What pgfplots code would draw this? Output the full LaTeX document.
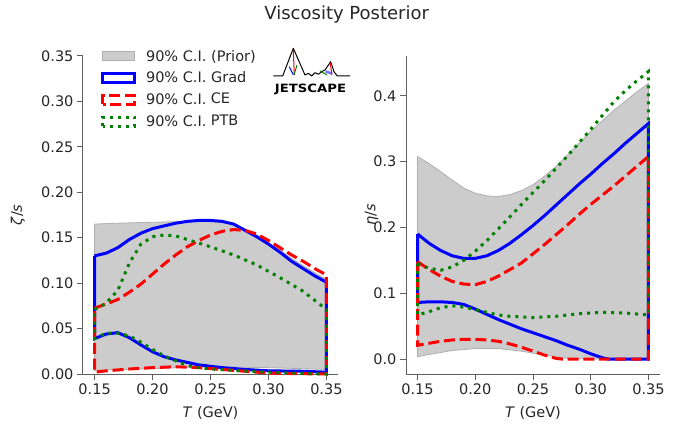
\documentclass[border=0pt]{standalone}
\usepackage{fontspec}
\setmainfont{DejaVu Sans}
\usepackage{pgfplots}
\pgfplotsset{compat=1.18}
\definecolor{txt}{RGB}{38,38,38}
\definecolor{spine}{RGB}{95,95,95}
\definecolor{priorfill}{RGB}{204,204,204}
\definecolor{prioredge}{RGB}{175,175,175}
\definecolor{mgreen}{RGB}{0,128,0}
\pgfplotsset{
 vstyle/.style={
  scale only axis, width=255pt, height=318pt, clip=false,
  axis x line*=bottom, axis y line*=left,
  axis line style={-, spine, line width=1pt},
  tick style={spine, line width=1pt},
  tick align=outside, major tick length=6pt,
  xmin=0.14, xmax=0.36, scaled ticks=false,
  xtick={0.15,0.2,0.25,0.3,0.35},
  xticklabel style={/pgf/number format/.cd, fixed, fixed zerofill, precision=2},
  /pgf/number format/assume math mode=true,
  tick label style={font=\fontsize{14.5}{17}\selectfont, text=txt},
  label style={font=\fontsize{14.5}{17}\selectfont, text=txt},
  xlabel={\textit{T} (GeV)},
  xlabel style={at={(axis description cs:0.5,-0.123)}, anchor=center},
  legend image code/.code={\draw[##1] (0pt,-4.5pt) rectangle (32pt,4.5pt); \path[draw=none, fill=none] (0pt,0pt) -- (42pt,0pt);},
 },
 grad/.style={blue, line width=3pt},
 ce/.style={red, line width=3pt, dash pattern=on 11pt off 4.8pt},
 ptb/.style={mgreen, line width=3pt, dash pattern=on 3pt off 5pt},
 prior/.style={fill=priorfill, draw=prioredge, line width=0.8pt},
}
\begin{document}
\begin{tikzpicture}
\path[use as bounding box] (0pt,0pt) rectangle (689pt,426pt);
\node[font=\fontsize{18}{21}\selectfont, text=txt] at (346.7pt,411pt) {Viscosity Posterior};

% ---------------- left panel: zeta/s
\begin{axis}[vstyle, at={(83pt,52pt)}, anchor=south west,
  ymin=0, ymax=0.35,
  ytick={0,0.05,0.1,0.15,0.2,0.25,0.3,0.35},
  yticklabel style={/pgf/number format/.cd, fixed, fixed zerofill, precision=2},
  ylabel={\textit{ζ}/\textit{s}},
  ylabel style={at={(axis description cs:-0.255,0.5)}, anchor=center},
  legend style={draw=none, fill=none, at={(axis description cs:0.07,1.024)}, anchor=north west,
    font=\fontsize{14.5}{17}\selectfont, text=txt, row sep=5.9pt, inner sep=0pt,
    nodes={inner sep=1.5pt}},
  legend cell align=left]
\addplot[prior] coordinates {
(0.15,0.165)(0.17,0.166)(0.20,0.167)(0.23,0.168)(0.25,0.168)(0.27,0.165)(0.29,0.153)(0.31,0.136)(0.33,0.119)(0.35,0.104)
(0.35,0.005)(0.30,0.007)(0.25,0.008)(0.20,0.006)(0.15,0.004)(0.15,0.165)};
\addlegendentry{90\% C.I. (Prior)}
\addplot[grad] coordinates {
(0.15,0.130)(0.16,0.133)(0.17,0.139)(0.18,0.148)(0.19,0.155)(0.20,0.160)(0.21,0.163)(0.22,0.166)(0.23,0.168)(0.24,0.169)(0.25,0.169)(0.26,0.168)(0.27,0.165)(0.28,0.158)(0.29,0.151)(0.30,0.143)(0.31,0.134)(0.32,0.124)(0.33,0.116)(0.34,0.108)(0.35,0.101)
(0.35,0.002)(0.33,0.003)(0.30,0.0035)(0.28,0.005)(0.26,0.007)(0.24,0.010)(0.22,0.0155)(0.21,0.019)(0.20,0.0245)(0.19,0.032)(0.18,0.040)(0.17,0.0455)(0.16,0.044)(0.15,0.039)(0.15,0.130)};
\addlegendentry{90\% C.I. Grad}
\addplot[ce] coordinates {
(0.15,0.0725)(0.16,0.077)(0.17,0.082)(0.18,0.090)(0.19,0.099)(0.20,0.110)(0.21,0.121)(0.22,0.131)(0.23,0.140)(0.24,0.147)(0.25,0.153)(0.26,0.157)(0.27,0.159)(0.28,0.158)(0.29,0.154)(0.30,0.147)(0.31,0.139)(0.32,0.131)(0.33,0.124)(0.34,0.116)(0.35,0.109)
(0.35,0.0)(0.32,0.0005)(0.30,0.001)(0.28,0.003)(0.26,0.005)(0.24,0.007)(0.22,0.008)(0.20,0.007)(0.18,0.0055)(0.16,0.0035)(0.15,0.002)(0.15,0.0725)};
\addlegendentry{90\% C.I.\hspace{0.3em}\raisebox{1pt}{CE}}
\addplot[ptb] coordinates {
(0.15,0.071)(0.16,0.078)(0.17,0.092)(0.18,0.122)(0.19,0.143)(0.20,0.151)(0.21,0.153)(0.22,0.152)(0.23,0.148)(0.25,0.140)(0.27,0.131)(0.29,0.120)(0.31,0.106)(0.33,0.091)(0.35,0.071)
(0.35,0.0)(0.32,0.001)(0.30,0.002)(0.27,0.004)(0.25,0.0055)(0.24,0.007)(0.23,0.0095)(0.22,0.0145)(0.21,0.020)(0.20,0.027)(0.19,0.035)(0.18,0.042)(0.17,0.045)(0.16,0.045)(0.15,0.039)(0.15,0.071)};
\addlegendentry{90\% C.I.\hspace{0.3em}\raisebox{1pt}{PTB}}
\end{axis}

% ---------------- right panel: eta/s
\begin{axis}[vstyle, at={(406pt,52pt)}, anchor=south west, width=254pt,
  ymin=-0.0227, ymax=0.4606,
  ytick={0,0.1,0.2,0.3,0.4},
  yticklabel style={/pgf/number format/.cd, fixed, fixed zerofill, precision=1},
  ylabel={\textit{η}/\textit{s}},
  ylabel style={at={(axis description cs:-0.135,0.5)}, anchor=center}]
\addplot[prior] coordinates {
(0.15,0.308)(0.16,0.297)(0.17,0.285)(0.18,0.272)(0.19,0.260)(0.20,0.252)(0.21,0.248)(0.22,0.247)(0.23,0.250)(0.24,0.256)(0.25,0.265)(0.26,0.278)(0.27,0.293)(0.28,0.310)(0.29,0.328)(0.30,0.346)(0.31,0.362)(0.32,0.378)(0.33,0.392)(0.34,0.406)(0.35,0.419)
(0.35,0.0)(0.30,0.0)(0.28,0.001)(0.26,0.006)(0.25,0.009)(0.24,0.012)(0.22,0.016)(0.20,0.016)(0.18,0.013)(0.16,0.007)(0.15,0.0035)(0.15,0.308)};
\addplot[grad] coordinates {
(0.15,0.190)(0.16,0.176)(0.17,0.165)(0.18,0.157)(0.19,0.153)(0.20,0.153)(0.21,0.157)(0.22,0.165)(0.23,0.176)(0.24,0.189)(0.25,0.203)(0.26,0.218)(0.27,0.234)(0.28,0.250)(0.29,0.266)(0.30,0.281)(0.31,0.297)(0.32,0.312)(0.33,0.328)(0.34,0.343)(0.35,0.358)
(0.35,0.0)(0.315,0.0)(0.31,0.002)(0.30,0.008)(0.29,0.015)(0.28,0.021)(0.27,0.028)(0.26,0.034)(0.25,0.040)(0.24,0.046)(0.23,0.053)(0.22,0.060)(0.21,0.068)(0.20,0.076)(0.19,0.083)(0.18,0.086)(0.17,0.087)(0.16,0.087)(0.15,0.086)(0.15,0.190)};
\addplot[ce] coordinates {
(0.15,0.148)(0.16,0.136)(0.17,0.126)(0.18,0.118)(0.19,0.114)(0.20,0.113)(0.21,0.118)(0.22,0.126)(0.23,0.136)(0.24,0.146)(0.25,0.160)(0.26,0.174)(0.27,0.189)(0.28,0.204)(0.29,0.220)(0.30,0.235)(0.31,0.249)(0.32,0.263)(0.33,0.278)(0.34,0.293)(0.35,0.308)
(0.35,0.0)(0.275,0.0)(0.27,0.001)(0.26,0.006)(0.25,0.012)(0.24,0.018)(0.23,0.023)(0.22,0.027)(0.21,0.029)(0.20,0.030)(0.19,0.030)(0.18,0.029)(0.17,0.027)(0.16,0.024)(0.15,0.021)(0.15,0.148)};
\addplot[ptb] coordinates {
(0.15,0.145)(0.16,0.138)(0.17,0.135)(0.18,0.140)(0.19,0.150)(0.20,0.164)(0.21,0.180)(0.22,0.198)(0.23,0.216)(0.24,0.235)(0.25,0.253)(0.26,0.271)(0.27,0.290)(0.28,0.309)(0.29,0.329)(0.30,0.349)(0.31,0.370)(0.32,0.391)(0.33,0.408)(0.34,0.423)(0.35,0.437)
(0.35,0.067)(0.33,0.070)(0.31,0.071)(0.29,0.069)(0.27,0.065)(0.25,0.063)(0.23,0.065)(0.22,0.067)(0.21,0.071)(0.20,0.075)(0.19,0.079)(0.18,0.081)(0.17,0.078)(0.16,0.072)(0.15,0.067)(0.15,0.145)};
\end{axis}

% ---------------- JETSCAPE logo (decoration)
\draw[black, line width=1pt, line join=round] (273.3pt,350pt) -- (282.7pt,350pt) -- (293.3pt,377.7pt) -- (305pt,351pt) -- (308.3pt,352.7pt) -- (311.7pt,350pt) -- (315pt,353.3pt) -- (318.3pt,351.7pt) -- (321.7pt,354.3pt) -- (325pt,356pt) -- (330.7pt,364.3pt) -- (334pt,354.3pt) -- (337.3pt,350pt) -- (350pt,350pt);
\draw[red, line width=1pt] (293.3pt,376pt) -- (294.3pt,351pt);
\draw[blue, line width=1pt] (289.3pt,359.3pt) -- (293.3pt,351pt);
\draw[mgreen, line width=1pt] (297pt,361pt) -- (294pt,351pt);
\draw[blue!55, line width=2.5pt] (325.5pt,354.5pt) -- (332pt,352.5pt);
\draw[red, line width=1pt] (330.2pt,363pt) -- (332pt,351pt);
\draw[mgreen, line width=1pt] (320pt,355pt) -- (327pt,351pt);
\node[font=\fontsize{11.4}{12}\selectfont\bfseries, xscale=1.16, inner sep=0pt] at (310.5pt,336.7pt) {JETSCAPE};
\end{tikzpicture}
\end{document}
